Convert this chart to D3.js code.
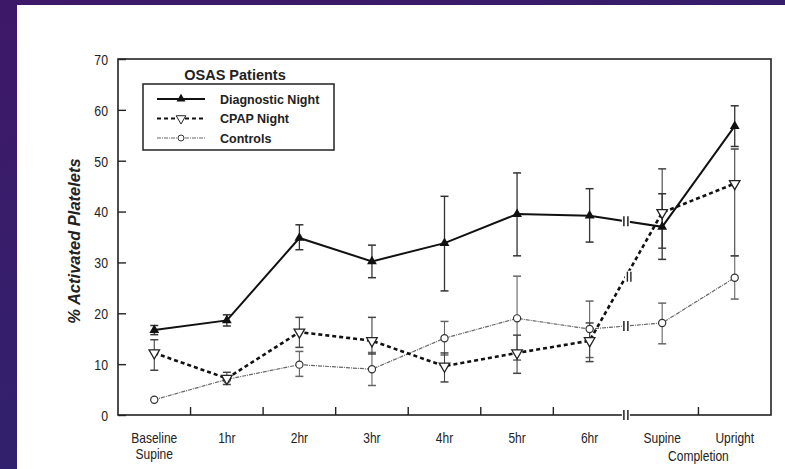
<!DOCTYPE html>
<html><head><meta charset="utf-8">
<script src="https://cdn.jsdelivr.net/npm/d3@7"></script>
<style>
html,body{margin:0;padding:0;}
body{width:785px;height:469px;overflow:hidden;background:linear-gradient(160deg,#3e1868 0%,#33206c 55%,#2b2273 100%);}
svg{display:block;}
text{font-family:"Liberation Sans",Arial,sans-serif;}
</style></head><body>
<svg id="c" width="785" height="469"></svg>
<script>
const categories = ["Baseline\nSupine","1hr","2hr","3hr","4hr","5hr","6hr","Supine","Upright"];
const yTicks = [0,10,20,30,40,50,60,70];
const diagnostic = [16.7,18.6,34.8,30.2,33.8,39.5,39.2,37.0,56.8];
const diagLo = [15.8,17.5,32.5,27.0,24.4,31.3,34.0,30.6,52.8];
const diagHi = [17.6,19.7,37.4,33.4,43.0,47.6,44.5,43.5,60.8];
const cpap = [12.2,7.2,16.3,14.6,9.6,12.2,14.6,39.8,45.5];
const cpapLo = [8.8,6.0,13.3,12.0,6.5,8.2,10.5,32.8,31.3];
const cpapHi = [14.8,8.4,19.2,19.2,12.2,15.7,18.1,48.4,52.3];
const controls = [3.0,7.0,9.9,9.0,15.1,19.0,16.9,18.1,27.0];
const ctrlLo = [3.0,7.0,7.6,5.8,11.8,10.8,11.3,14.0,22.8];
const ctrlHi = [3.0,7.0,12.5,12.3,18.4,27.3,22.4,22.0,31.3];

const svg = d3.select("#c");
svg.append("rect").attr("x",17).attr("y",5).attr("width",768).attr("height",464).attr("fill","#fff");

function condense(sel,f){
  sel.each(function(){
    const w=this.getComputedTextLength();
    d3.select(this).attr("textLength",w*f).attr("lengthAdjust","spacingAndGlyphs");
  });
}

const L=118, R=771, T=59, B=415;
const x = d3.scaleBand().domain(d3.range(categories.length)).range([L,R]);
const cx = i => x(i) + x.bandwidth()/2;
const y = d3.scaleLinear().domain([0,70]).range([B,T]);
const g = svg.append("g");

// frame
g.append("rect").attr("x",L).attr("y",T).attr("width",R-L).attr("height",B-T)
 .attr("fill","none").attr("stroke","#222").attr("stroke-width",1.6);

// y axis
const ya = g.append("g").attr("transform",`translate(${L},0)`)
  .call(d3.axisLeft(y).tickValues(yTicks).tickSize(-8).tickPadding(10));
ya.select(".domain").remove();
ya.selectAll("line").attr("stroke","#222").attr("stroke-width",1.4);
ya.selectAll("text").attr("font-size",15).attr("fill","#222").attr("font-family","'Liberation Sans',Arial")
  .attr("dy","0.36em").call(condense,0.82);

// x axis ticks at band boundaries (except break)
const boundaries = d3.range(1,categories.length);
const xa = g.append("g").attr("transform",`translate(0,${B})`)
  .call(d3.axisBottom(x).tickSize(0).tickFormat(()=>""));
xa.select(".domain").remove();
g.selectAll(".bt").data(boundaries.filter(b=>b!==7)).enter().append("line")
 .attr("x1",d=>x(d)).attr("x2",d=>x(d)).attr("y1",B).attr("y2",B-8)
 .attr("stroke","#222").attr("stroke-width",1.4);

// x labels
const xl=[];
categories.forEach((c,i)=>{
  c.split("\n").forEach((ln,k)=>{
    xl.push(g.append("text").attr("x",cx(i)).attr("y",B+28+k*16).attr("text-anchor","middle")
     .attr("font-size",15).attr("fill","#222").text(ln).node());
  });
});
xl.push(g.append("text").attr("x",(cx(7)+cx(8))/2).attr("y",B+46).attr("text-anchor","middle")
 .attr("font-size",15).attr("fill","#222").text("Completion").node());
condense(d3.selectAll(xl),0.8);

// y title
g.append("text").attr("transform",`translate(80,${(T+B)/2+4}) rotate(-90)`).attr("text-anchor","middle")
 .attr("font-size",16.5).attr("font-weight","bold").attr("font-style","italic").attr("fill","#222")
 .text("% Activated Platelets");

// error bars
function errBars(vLo,vHi,color,w){
  vLo.forEach((lo,i)=>{
    const hi=vHi[i]; if(hi-lo<0.01) return;
    g.append("line").attr("x1",cx(i)).attr("x2",cx(i)).attr("y1",y(lo)).attr("y2",y(hi)).attr("stroke",color).attr("stroke-width",w);
    [lo,hi].forEach(v=>g.append("line").attr("x1",cx(i)-4).attr("x2",cx(i)+4).attr("y1",y(v)).attr("y2",y(v)).attr("stroke",color).attr("stroke-width",1.5));
  });
}
errBars(ctrlLo,ctrlHi,"#666",1.1);
errBars(cpapLo,cpapHi,"#444",1.1);
errBars(diagLo,diagHi,"#333",1.3);

const line = d3.line().x((d,i)=>cx(i)).y(d=>y(d));
g.append("path").datum(controls).attr("d",line).attr("fill","none").attr("stroke","#666").attr("stroke-width",1.2).attr("stroke-dasharray","4,1,1,1");
g.append("path").datum(cpap).attr("d",line).attr("fill","none").attr("stroke","#111").attr("stroke-width",2.6).attr("stroke-dasharray","4,3");
g.append("path").datum(diagnostic).attr("d",line).attr("fill","none").attr("stroke","#111").attr("stroke-width",2);

// markers
g.selectAll(".mc").data(controls).enter().append("circle").attr("cx",(d,i)=>cx(i)).attr("cy",d=>y(d)).attr("r",3.6)
 .attr("fill","#fff").attr("stroke","#333").attr("stroke-width",1.2);
const triDown = d3.symbol().type(d3.symbolTriangle).size(48);
g.selectAll(".mp").data(cpap).enter().append("path").attr("d",triDown)
 .attr("transform",(d,i)=>`translate(${cx(i)},${y(d)}) rotate(180)`).attr("fill","#fff").attr("stroke","#222").attr("stroke-width",1.3);
const triUp = d3.symbol().type(d3.symbolTriangle).size(42);
g.selectAll(".md").data(diagnostic).enter().append("path").attr("d",triUp)
 .attr("transform",(d,i)=>`translate(${cx(i)},${y(d)})`).attr("fill","#111");

// breaks between 6hr and Supine
function brkV(px,py){
  g.append("rect").attr("x",px-4).attr("y",py-5).attr("width",8).attr("height",10).attr("fill","#fff");
  [-2,2].forEach(dx=>g.append("line").attr("x1",px+dx).attr("x2",px+dx).attr("y1",py-5).attr("y2",py+5).attr("stroke","#222").attr("stroke-width",1.5));
}
[diagnostic,controls].forEach(a=>brkV((cx(6)+cx(7))/2,(y(a[6])+y(a[7]))/2));
{
  const px=(cx(6)+cx(7))/2, py=(y(cpap[6])+y(cpap[7]))/2;
  g.append("rect").attr("x",px-1).attr("y",py-6).attr("width",9).attr("height",12).attr("fill","#fff");
  [1.5,5].forEach(dx=>g.append("line").attr("x1",px+dx).attr("x2",px+dx).attr("y1",py-5).attr("y2",py+5).attr("stroke","#222").attr("stroke-width",1.4));
}
brkV(x(7),B);

// legend
const lg=g.append("g");
lg.append("text").attr("x",235).attr("y",80).attr("text-anchor","middle").attr("font-size",14.5).attr("font-weight","bold")
 .attr("fill","#222").text("OSAS Patients");
lg.append("rect").attr("x",143).attr("y",84).attr("width",191).attr("height",66).attr("fill","#fff").attr("stroke","#222").attr("stroke-width",1.5);
const legItems=[
 {name:"Diagnostic Night",dash:null,w:2,col:"#111",mk:"tu"},
 {name:"CPAP Night",dash:"4,3",w:2.2,col:"#111",mk:"td"},
 {name:"Controls",dash:"4,1,1,1",w:1.1,col:"#666",mk:"c"}];
legItems.forEach((it,k)=>{
  const yy=99+k*19.5;
  lg.append("line").attr("x1",157).attr("x2",205).attr("y1",yy).attr("y2",yy).attr("stroke",it.col).attr("stroke-width",it.w).attr("stroke-dasharray",it.dash);
  if(it.mk==="tu") lg.append("path").attr("d",d3.symbol().type(d3.symbolTriangle).size(35)).attr("transform",`translate(181,${yy})`).attr("fill","#111");
  if(it.mk==="td") lg.append("path").attr("d",d3.symbol().type(d3.symbolTriangle).size(40)).attr("transform",`translate(181,${yy}) rotate(180)`).attr("fill","#fff").attr("stroke","#222");
  if(it.mk==="c") lg.append("circle").attr("cx",181).attr("cy",yy).attr("r",3).attr("fill","#fff").attr("stroke","#333");
  lg.append("text").attr("x",220).attr("y",yy+4.5).attr("font-size",12.5).attr("font-weight","bold")
   .attr("fill","#222").text(it.name);
});
</script></body></html>
